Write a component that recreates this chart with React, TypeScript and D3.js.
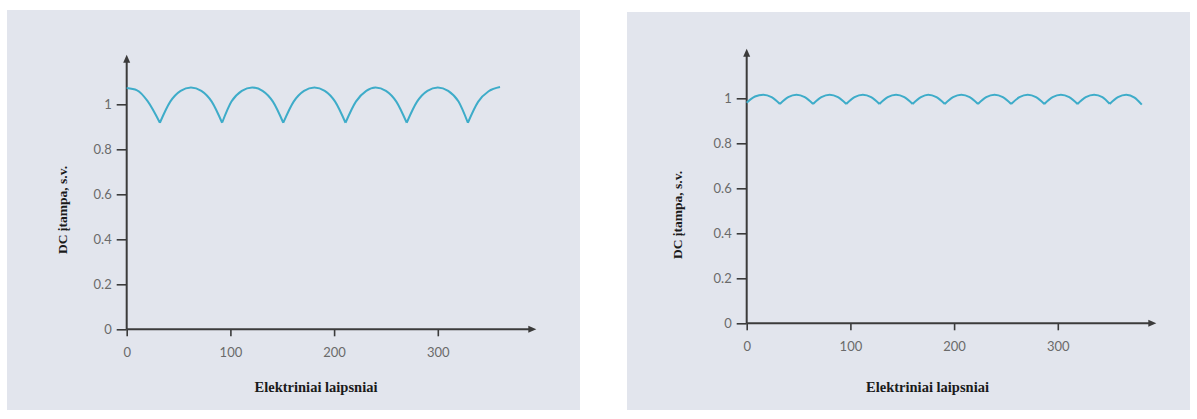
import React, { useEffect, useRef } from "react";
import * as d3 from "d3";

const WIDTH = 1197;
const HEIGHT = 419;

// 6-pulse (left) readings, degrees / p.u.
const leftAngles = [0, 10, 20, 32, 42, 52, 62, 72, 82, 92, 101, 111, 121, 131, 141, 151, 161, 171, 181, 191, 201, 211, 221, 231, 240, 250, 260, 270, 280, 290, 300, 310, 320, 329, 339, 349, 360];
const leftValues = [1.072, 1.062, 1.015, 0.918, 1.012, 1.06, 1.075, 1.06, 1.012, 0.918, 1.012, 1.06, 1.075, 1.06, 1.012, 0.918, 1.012, 1.06, 1.075, 1.06, 1.012, 0.918, 1.012, 1.06, 1.075, 1.06, 1.012, 0.918, 1.012, 1.06, 1.075, 1.06, 1.012, 0.918, 1.012, 1.058, 1.077];

// 12-pulse (right) readings
const rightAngles = [0, 8, 16, 24, 32, 40, 48, 56, 64, 72, 80, 88, 96, 104, 112, 120, 128, 136, 144, 152, 160, 168, 175, 183, 191, 199, 207, 215, 223, 231, 239, 247, 255, 263, 271, 279, 287, 295, 303, 311, 319, 327, 335, 343, 350, 358, 366, 374, 381];
const rightValues = [0.98, 1.008, 1.016, 1.005, 0.975, 1.005, 1.016, 1.005, 0.975, 1.005, 1.016, 1.005, 0.975, 1.005, 1.016, 1.005, 0.975, 1.005, 1.016, 1.005, 0.975, 1.005, 1.016, 1.005, 0.975, 1.005, 1.016, 1.005, 0.975, 1.005, 1.016, 1.005, 0.975, 1.005, 1.016, 1.005, 0.975, 1.005, 1.016, 1.005, 0.975, 1.005, 1.016, 1.005, 0.975, 1.005, 1.016, 1.003, 0.972];

const xTicks = [0, 100, 200, 300];
const yTicks = [0, 0.2, 0.4, 0.6, 0.8, 1];
const yTickLabels = ["0", "0.2", "0.4", "0.6", "0.8", "1"];

const X_TITLE = "Elektriniai laipsniai";
const Y_TITLE = "DC įtampa, s.v.";

const X_MAX = 395;
const Y_MAX = 1.22;

const panels = [
  { bx: 7, by: 10, bw: 573, bh: 400, ox: 126.7, oy: 329.3, titleX: 316, yTitleX: 63, yTitleY: 210, angles: leftAngles, values: leftValues },
  { bx: 627, by: 12, bw: 563, bh: 398, ox: 746.7, oy: 323.3, titleX: 927.5, yTitleX: 678, yTitleY: 215, angles: rightAngles, values: rightValues },
];

const AXIS_COLOR = "#3b3b3b";
const LINE_COLOR = "#3eacc9";

// split a series at its cusps (local minima) so each arc is smoothed on its own
const splitArcs = (pts: [number, number][]) => {
  let arcs: [number, number][][] = [];
  let cur: [number, number][] = [pts[0]];
  for (let i = 1; i < pts.length; i++) {
    cur.push(pts[i]);
    let isMin = i < pts.length - 1 && pts[i][1] < pts[i - 1][1] && pts[i][1] < pts[i + 1][1];
    if (isMin) {
      arcs.push(cur);
      cur = [pts[i]];
    }
  }
  if (cur.length > 1) arcs.push(cur);
  return arcs;
};

export default function App() {
  const ref = useRef<SVGSVGElement>(null);

  useEffect(() => {
    let svg = d3.select(ref.current);
    svg.selectAll("*").remove();

    for (let p of panels) {
      svg.append("rect")
        .attr("x", p.bx).attr("y", p.by)
        .attr("width", p.bw).attr("height", p.bh)
        .attr("fill", "#e2e5ed");

      let x = d3.scaleLinear().domain([0, X_MAX]).range([p.ox, p.ox + X_MAX * 1.037]);
      let y = d3.scaleLinear().domain([0, Y_MAX]).range([p.oy, p.oy - Y_MAX * 225]);

      // y axis ticks
      let gy = svg.append("g").attr("transform", `translate(${p.ox},0)`)
        .call(d3.axisLeft(y).tickValues(yTicks).tickSize(10).tickPadding(5)
          .tickFormat((d, i) => yTickLabels[i]));
      gy.select(".domain").remove();

      // x axis ticks
      let gx = svg.append("g").attr("transform", `translate(0,${p.oy})`)
        .call(d3.axisBottom(x).tickValues(xTicks).tickSize(7).tickPadding(11).tickFormat(d3.format("d")));
      gx.select(".domain").remove();

      for (let g of [gx, gy]) {
        g.selectAll("line").attr("stroke", AXIS_COLOR).attr("stroke-width", 1.6);
        g.selectAll("text")
          .attr("fill", "#6a6a6a")
          .style("font-family", "Lato, 'DejaVu Sans', sans-serif")
          .style("font-size", "13px");
      }

      // axis lines with arrow heads
      svg.append("line")
        .attr("x1", x(0)).attr("x2", x(0))
        .attr("y1", y(0)).attr("y2", y(Y_MAX) + 6)
        .attr("stroke", AXIS_COLOR).attr("stroke-width", 2);
      svg.append("path")
        .attr("d", `M${x(0) - 3.5},${y(Y_MAX) + 8}L${x(0)},${y(Y_MAX)}L${x(0) + 3.5},${y(Y_MAX) + 8}Z`)
        .attr("fill", AXIS_COLOR);

      svg.append("line")
        .attr("x1", x(0)).attr("x2", x(X_MAX) - 6)
        .attr("y1", y(0)).attr("y2", y(0))
        .attr("stroke", AXIS_COLOR).attr("stroke-width", 2);
      svg.append("path")
        .attr("d", `M${x(X_MAX) - 8},${y(0) - 3.5}L${x(X_MAX)},${y(0)}L${x(X_MAX) - 8},${y(0) + 3.5}Z`)
        .attr("fill", AXIS_COLOR);

      // curve
      let pts: [number, number][] = p.angles.map((a, i) => [a, p.values[i]]);
      let line = d3.line<[number, number]>()
        .x(d => x(d[0]))
        .y(d => y(d[1]))
        .curve(d3.curveMonotoneX);
      let path = splitArcs(pts).map(a => line(a)).join("");
      svg.append("path")
        .attr("d", path)
        .attr("fill", "none")
        .attr("stroke", LINE_COLOR)
        .attr("stroke-width", 2)
        .attr("stroke-linejoin", "miter");

      // titles
      svg.append("text")
        .attr("x", p.titleX).attr("y", 392)
        .attr("text-anchor", "middle")
        .attr("fill", "#1a1a1a")
        .style("font-family", "'Liberation Serif', serif")
        .style("font-weight", "bold")
        .style("font-size", "14.5px")
        .text(X_TITLE);

      svg.append("text")
        .attr("transform", `translate(${p.yTitleX + 4},${p.yTitleY}) rotate(-90)`)
        .attr("text-anchor", "middle")
        .attr("fill", "#1a1a1a")
        .style("font-family", "'Liberation Serif', serif")
        .style("font-weight", "bold")
        .style("font-size", "13.5px")
        .text(Y_TITLE);
    }
  }, []);

  return (
    <div style={{ position: "absolute", left: 0, top: 0, width: WIDTH, height: HEIGHT, background: "#fff" }}>
      <svg ref={ref} width={WIDTH} height={HEIGHT} style={{ display: "block" }}></svg>
    </div>
  );
}
